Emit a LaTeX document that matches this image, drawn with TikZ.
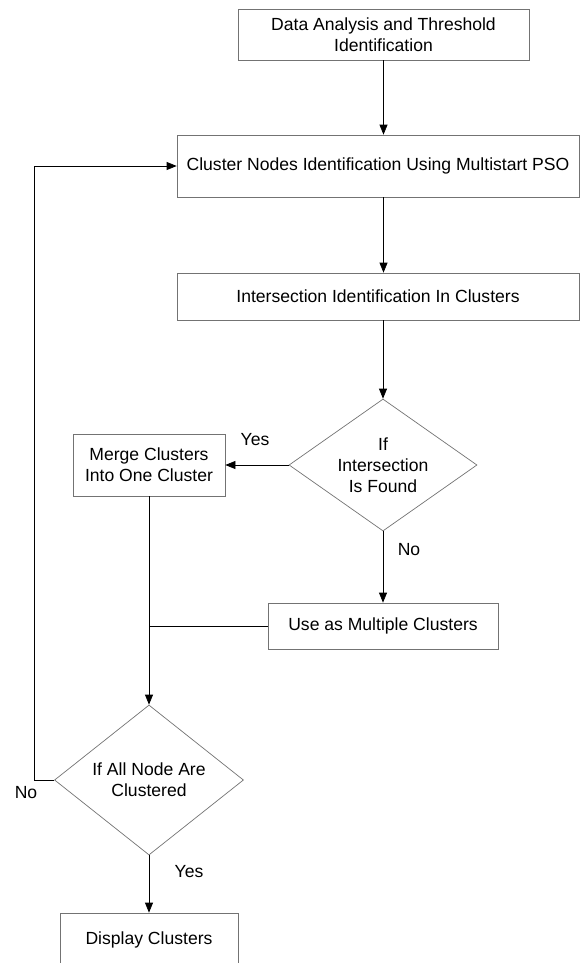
\documentclass[tikz,border=0pt]{standalone}
\usepackage{fontspec}
\setmainfont{Liberation Sans}
\usetikzlibrary{shapes.geometric,arrows.meta}

\begin{document}
\begin{tikzpicture}[x=0.02cm, y=-0.02cm,
  box/.style={draw=black!55, align=center, inner sep=0pt, font=\fontsize{10}{12}\selectfont},
  decision/.style={draw=black!55, diamond, aspect=1.42, align=center, inner sep=0pt, font=\fontsize{10}{12}\selectfont},
  label/.style={font=\fontsize{10}{12}\selectfont},
  flow/.style={-{Triangle[length=2mm,width=1.6mm]}, black}]
  \useasboundingbox (0,0) rectangle (580,963);

  \node[box, minimum width=291*0.02cm, minimum height=51*0.02cm](data) at (383.5,34.5) {Data Analysis and Threshold\\Identification};
  \node[box, minimum width=402*0.02cm, minimum height=62*0.02cm](pso)  at (378,166) {Cluster Nodes Identification Using Multistart PSO};
  \node[box, minimum width=402*0.02cm, minimum height=47*0.02cm](inter) at (378,296.5) {Intersection Identification In Clusters};
  \node[decision, minimum width=188*0.02cm, minimum height=132*0.02cm](found) at (383,465) {If\\Intersection\\Is Found};
  \node[box, minimum width=152*0.02cm, minimum height=62*0.02cm](merge) at (149,465) {Merge Clusters\\Into One Cluster};
  \node[box, minimum width=230*0.02cm, minimum height=46*0.02cm](multi) at (383,626) {Use as Multiple Clusters};
  \node[decision, minimum width=189*0.02cm, minimum height=150*0.02cm](allnodes) at (149,780) {If All Node Are\\Clustered};
  \node[box, minimum width=178*0.02cm, minimum height=53*0.02cm](display) at (149,939.5) {Display Clusters};

  \node[label](yes1) at (255,440) {Yes};
  \node[label](no1)  at (409,550) {No};
  \node[label](no2)  at (26,793)  {No};
  \node[label](yes2) at (189,872) {Yes};

  \coordinate (turn) at (34,780);

  \draw[flow] (data.south) -- (data.south |- pso.north);
  \draw[flow] (data.south |- pso.south) -- (data.south |- inter.north);
  \draw[flow] (found |- inter.south) -- (found.north);
  \draw[flow] (found.west) -- (merge.east);
  \draw[flow] (found.south) -- (multi.north);
  \draw[flow] (merge.south) -- (allnodes.north);
  \draw (multi.west) -- (multi.west -| merge.south);
  \draw[flow] (allnodes.west) -- (turn) |- (pso.west);
  \draw[flow] (allnodes.south) -- (display.north);
\end{tikzpicture}
\end{document}
